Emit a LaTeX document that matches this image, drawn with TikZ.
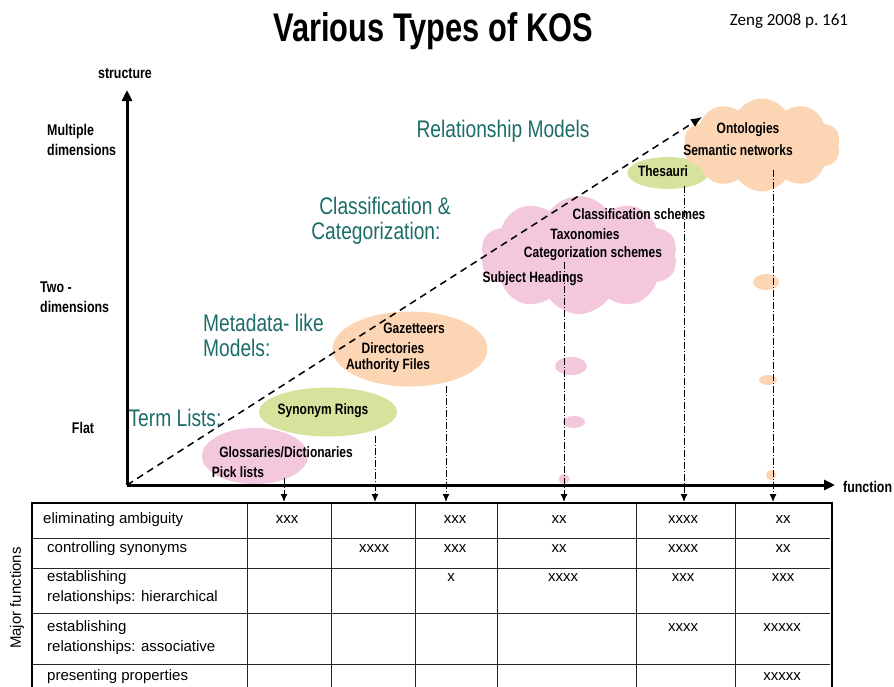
\documentclass[tikz,border=0pt]{standalone}
\usepackage{fontspec}
\setmainfont{Liberation Sans}
\newfontfamily\narrowfont[FakeStretch=0.8]{Liberation Sans}
\newfontfamily\zengfont{Carlito}
\usepackage{xcolor}
\usetikzlibrary{shapes.geometric, shapes.symbols, arrows.meta}

\definecolor{kospink}{RGB}{243,200,221}
\definecolor{kosgreen}{RGB}{214,227,156}
\definecolor{kospeach}{RGB}{252,213,180}
\definecolor{kosteal}{RGB}{28,108,104}

\tikzset{
  kositem/.style={font=\narrowfont\bfseries\fontsize{15}{18}\selectfont, inner sep=0pt},
  axislbl/.style={font=\narrowfont\bfseries\fontsize{15.5}{20}\selectfont, inner sep=0pt, align=left},
  groupname/.style={font=\narrowfont\fontsize{24}{25}\selectfont, text=kosteal, inner sep=0pt},
  celltxt/.style={font=\fontsize{15}{20}\selectfont, inner sep=0pt, align=left},
  blob/.style={ellipse, draw=none, inner sep=0pt},
  kiscloud/.style={cloud, cloud puffs=10, cloud puff arc=110, cloud ignores aspect, draw=none, inner sep=0pt},
  dropline/.style={line width=1pt, dash pattern=on 7pt off 2pt on 1pt off 2pt,
    -{Latex[length=8pt,width=7pt]}},
  gridline/.style={line width=1pt, draw=black!85},
}

\begin{document}
\begin{tikzpicture}[x=1pt, y=-1pt]
    \useasboundingbox (0,0) rectangle (894,686);

    % title and source
    \node[font=\bfseries\fontsize{40}{44}\selectfont, xscale=0.77] (title) at (433,31) {Various Types of KOS};
    \node[font=\zengfont\fontsize{17}{20}\selectfont] (source) at (789,21) {Zeng 2008 p.\ 161};

    % axes
    \coordinate (corner) at (127,485);
    \coordinate (ytip) at (127,90);
    \coordinate (xtip) at (835,485);
    \draw[line width=3pt, -{Triangle[length=11pt,width=10pt]}] (corner) -- (ytip);
    \draw[line width=3pt, -{Triangle[length=11pt,width=10pt]}] (corner) -- (xtip);
    \node[axislbl] (structure) at (125,74) {structure};
    \node[axislbl, anchor=west] (function) at (843,487) {function};

    \node[axislbl, anchor=west] (multi) at (47,140) {Multiple\\dimensions};
    \node[axislbl, anchor=west] (twodim) at (40,297) {Two -\\dimensions};
    \node[axislbl] (flat) at (83,428) {Flat};

    % shapes
    \node[blob, fill=kospink, minimum width=106pt, minimum height=56pt] (glossell) at (255,456) {};
    \node[blob, fill=kosgreen, minimum width=138pt, minimum height=49pt] (synell) at (328,412) {};
    \node[blob, fill=kospeach, minimum width=155pt, minimum height=75pt] (metaell) at (410,349) {};
    \node[kiscloud, fill=kospink, minimum width=197pt, minimum height=118pt] (clscloud) at (579,255) {};
    \node[blob, fill=kosgreen, minimum width=81pt, minimum height=32pt] (thesell) at (668,173) {};
    \node[kiscloud, fill=kospeach, minimum width=157pt, minimum height=93pt] (ontcloud) at (762,145) {};

    \node[blob, fill=kospink, minimum width=32pt, minimum height=18pt] (pinkA) at (571,366) {};
    \node[blob, fill=kospink, minimum width=22pt, minimum height=12pt] (pinkB) at (574,422) {};
    \node[blob, fill=kospink, minimum width=11pt, minimum height=10pt] (pinkC) at (564,479) {};
    \node[blob, fill=kospeach, minimum width=26pt, minimum height=16pt] (peachA) at (766,282) {};
    \node[blob, fill=kospeach, minimum width=18pt, minimum height=10pt] (peachB) at (768,380) {};
    \node[blob, fill=kospeach, minimum width=10pt, minimum height=10pt] (peachC) at (771,475) {};

    % diagonal
    \coordinate (diagtip) at (702,117);
    \draw[line width=1.5pt, dash pattern=on 7pt off 5pt, -{Latex[length=11pt,width=9pt]}] (corner) -- (diagtip);

    % group names
    \node[groupname] (relmodels) at (503,131) {Relationship Models};
    \node[groupname, align=left] (clsmodels) at (381,221) {\hspace*{8pt}Classification \&\\Categorization:};
    \node[groupname, align=left, anchor=west] (metamodels) at (203,335) {Metadata- like\\Models:};
    \node[groupname] (termlists) at (175,418) {Term Lists:};

    % item labels
    \node[kositem] (gloss) at (286,452) {Glossaries/Dictionaries};
    \node[kositem] (picklists) at (238,472) {Pick lists};
    \node[kositem] (synrings) at (323,411) {Synonym Rings};
    \node[kositem] (gazet) at (414,328) {Gazetteers};
    \node[kositem] (direct) at (393,348) {Directories};
    \node[kositem] (authfiles) at (388,366) {Authority Files};
    \node[kositem] (clsschemes) at (639,214) {Classification schemes};
    \node[kositem] (taxo) at (585,234) {Taxonomies};
    \node[kositem] (catschemes) at (593,254) {Categorization schemes};
    \node[kositem] (subjhead) at (533,279) {Subject Headings};
    \node[kositem] (thesauri) at (663,171) {Thesauri};
    \node[kositem] (ontol) at (748,130) {Ontologies};
    \node[kositem] (semnet) at (738,150) {Semantic networks};

    % drop lines to the table
    \coordinate (top1) at (284,478);
    \coordinate (top2) at (375,436);
    \coordinate (top3) at (446,386);
    \coordinate (top4) at (564,262);
    \coordinate (top5) at (684,186);
    \coordinate (top6) at (773,170);
    \coordinate (end1) at (284,502);
    \coordinate (end2) at (375,502);
    \coordinate (end3) at (446,502);
    \coordinate (end4) at (564,502);
    \coordinate (end5) at (684,502);
    \coordinate (end6) at (773,502);
    \draw[dropline] (top1) -- (end1);
    \draw[dropline] (top2) -- (end2);
    \draw[dropline] (top3) -- (end3);
    \draw[dropline] (top4) -- (end4);
    \draw[dropline] (top5) -- (end5);
    \draw[dropline] (top6) -- (end6);

    % table
    \draw[gridline] (247,503) -- (247,700);
    \draw[gridline] (331,503) -- (331,700);
    \draw[gridline] (415,503) -- (415,700);
    \draw[gridline] (497,503) -- (497,700);
    \draw[gridline] (636,503) -- (636,700);
    \draw[gridline] (735,503) -- (735,700);
    \draw[gridline] (32,538) -- (830,538);
    \draw[gridline] (32,568) -- (830,568);
    \draw[gridline] (32,613) -- (830,613);
    \draw[gridline] (32,664) -- (830,664);
    \draw[line width=2.5pt] (32,700) -- (32,503) -- (832,503) -- (832,700);

    \node[celltxt, anchor=west] (f1) at (43,520) {eliminating ambiguity};
    \node[celltxt, anchor=west] (f2) at (47,549) {controlling synonyms};
    \node[celltxt, anchor=west] (f3) at (47,588) {establishing\\relationships: hierarchical};
    \node[celltxt, anchor=west] (f4) at (47,638) {establishing\\relationships: associative};
    \node[celltxt, anchor=west] (f5) at (47,677) {presenting properties};
    \node[celltxt, rotate=90] (major) at (17,598) {Major functions};

    \node[celltxt] (r1c1) at (287,520) {xxx};
    \node[celltxt] (r1c3) at (455,520) {xxx};
    \node[celltxt] (r1c4) at (559,520) {xx};
    \node[celltxt] (r1c5) at (683,520) {xxxx};
    \node[celltxt] (r1c6) at (783,520) {xx};
    \node[celltxt] (r2c2) at (374,549) {xxxx};
    \node[celltxt] (r2c3) at (455,549) {xxx};
    \node[celltxt] (r2c4) at (559,549) {xx};
    \node[celltxt] (r2c5) at (683,549) {xxxx};
    \node[celltxt] (r2c6) at (783,549) {xx};
    \node[celltxt] (r3c3) at (451,578) {x};
    \node[celltxt] (r3c4) at (563,578) {xxxx};
    \node[celltxt] (r3c5) at (683,578) {xxx};
    \node[celltxt] (r3c6) at (783,578) {xxx};
    \node[celltxt] (r4c5) at (683,628) {xxxx};
    \node[celltxt] (r4c6) at (782,628) {xxxxx};
    \node[celltxt] (r5c6) at (782,677) {xxxxx};
\end{tikzpicture}
\end{document}
